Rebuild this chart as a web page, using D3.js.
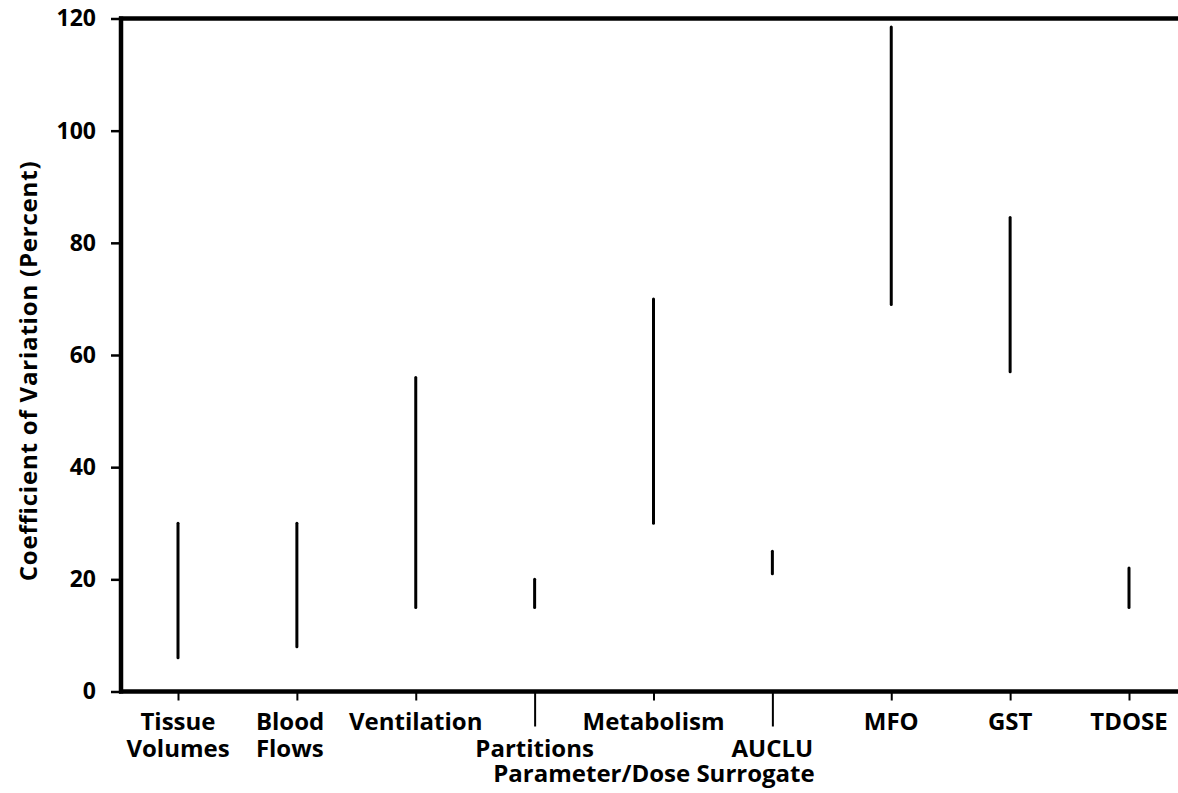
<!DOCTYPE html>
<html lang="en">
<head>
  <meta charset="utf-8">
  <title>Coefficient of Variation</title>
  <style>
    body {
      margin: 0;
      background: #fff;
    }
    svg text {
      font-family: 'Open Sans', sans-serif;
      font-weight: 700;
      fill: #000;
    }
    .range-line {
      stroke: #000;
      stroke-width: 3;
      stroke-linecap: round;
    }
    .frame {
      stroke: #000;
      stroke-width: 4.5;
    }
  </style>
</head>
<body>
  <div id="chart"></div>

  <script src="https://d3js.org/d3.v7.min.js"></script>
  <script>
    // Data
    var categories = ["Tissue Volumes", "Blood Flows", "Ventilation", "Partitions",
                      "Metabolism", "AUCLU", "MFO", "GST", "TDOSE"];
    var lowValues  = [6, 8, 15, 15, 30, 21, 69, 57, 15];
    var highValues = [30, 30, 56, 20, 70, 25, 118.5, 84.5, 22];
    var yTicks = [0, 20, 40, 60, 80, 100, 120];
    // labels drawn on two lines; staggered ones sit on the second line
    var labelLines = [["Tissue", "Volumes"], ["Blood", "Flows"], ["Ventilation"], ["", "Partitions"],
                      ["Metabolism"], ["", "AUCLU"], ["MFO"], ["GST"], ["TDOSE"]];

    var width = 1178;
    var height = 793;
    var plotLeft = 121, plotRight = 1178, plotTop = 18.5, plotBottom = 691.5;
    var labelSize = "24px";

    var svg = d3.select("#chart")
      .append("svg")
      .attr("width", width)
      .attr("height", height);

    var xScale = d3.scalePoint()
      .domain(categories)
      .range([178, 1129]);

    var yScale = d3.scaleLinear()
      .domain([0, 120])
      .range([plotBottom, plotTop]);

    // y axis
    var yAxis = svg.append("g")
      .attr("transform", "translate(" + plotLeft + ",0)")
      .call(d3.axisLeft(yScale).tickValues(yTicks).tickSize(10).tickPadding(15));
    yAxis.select(".domain").remove();
    yAxis.selectAll(".tick line").attr("stroke-width", 2.5);
    yAxis.selectAll(".tick text")
      .style("font-size", "23px")
      .style("font-family", "'Open Sans', sans-serif")
      .style("font-weight", 700);

    // x axis
    var xAxis = svg.append("g")
      .attr("transform", "translate(0," + plotBottom + ")")
      .call(d3.axisBottom(xScale).tickSize(9).tickFormat(""));
    xAxis.select(".domain").remove();
    xAxis.selectAll(".tick line")
      .attr("stroke-width", 2)
      .attr("y2", function(d, i) { return labelLines[i][0] === "" ? 35 : 9; });

    // category labels ("Blood Flows" is set flush left in the original)
    var labels = svg.append("g")
      .selectAll("text")
      .data(categories)
      .enter()
      .append("text")
      .attr("text-anchor", function(d, i) { return i === 1 ? "start" : "middle"; })
      .style("font-size", labelSize);

    labels.each(function(d, i) {
      var t = d3.select(this);
      var x = i === 1 ? xScale(d) - 41 : xScale(d);
      labelLines[i].forEach(function(line, j) {
        if (line === "") return;
        t.append("tspan")
          .attr("x", x)
          .attr("y", 730 + j * 27)
          .text(line);
      });
    });

    // frame: left, top, bottom
    svg.append("line").attr("class", "frame")
      .attr("x1", plotLeft).attr("x2", plotLeft).attr("y1", plotTop - 2).attr("y2", plotBottom + 2);
    svg.append("line").attr("class", "frame")
      .attr("x1", plotLeft - 2).attr("x2", plotRight).attr("y1", plotTop).attr("y2", plotTop);
    svg.append("line").attr("class", "frame")
      .attr("x1", plotLeft - 2).attr("x2", plotRight).attr("y1", plotBottom).attr("y2", plotBottom);

    // range lines
    svg.append("g")
      .selectAll("line")
      .data(categories)
      .enter()
      .append("line")
      .attr("class", "range-line")
      .attr("x1", function(d) { return xScale(d); })
      .attr("x2", function(d) { return xScale(d); })
      .attr("y1", function(d, i) { return yScale(lowValues[i]); })
      .attr("y2", function(d, i) { return yScale(highValues[i]); });

    // axis titles
    svg.append("text")
      .attr("x", 654)
      .attr("y", 782)
      .attr("text-anchor", "middle")
      .style("font-size", labelSize)
      .text("Parameter/Dose Surrogate");

    svg.append("text")
      .attr("transform", "translate(37,371) rotate(-90)")
      .attr("text-anchor", "middle")
      .style("font-size", labelSize)
      .style("letter-spacing", "0.8px")
      .text("Coefficient of Variation (Percent)");
  </script>
</body>
</html>
